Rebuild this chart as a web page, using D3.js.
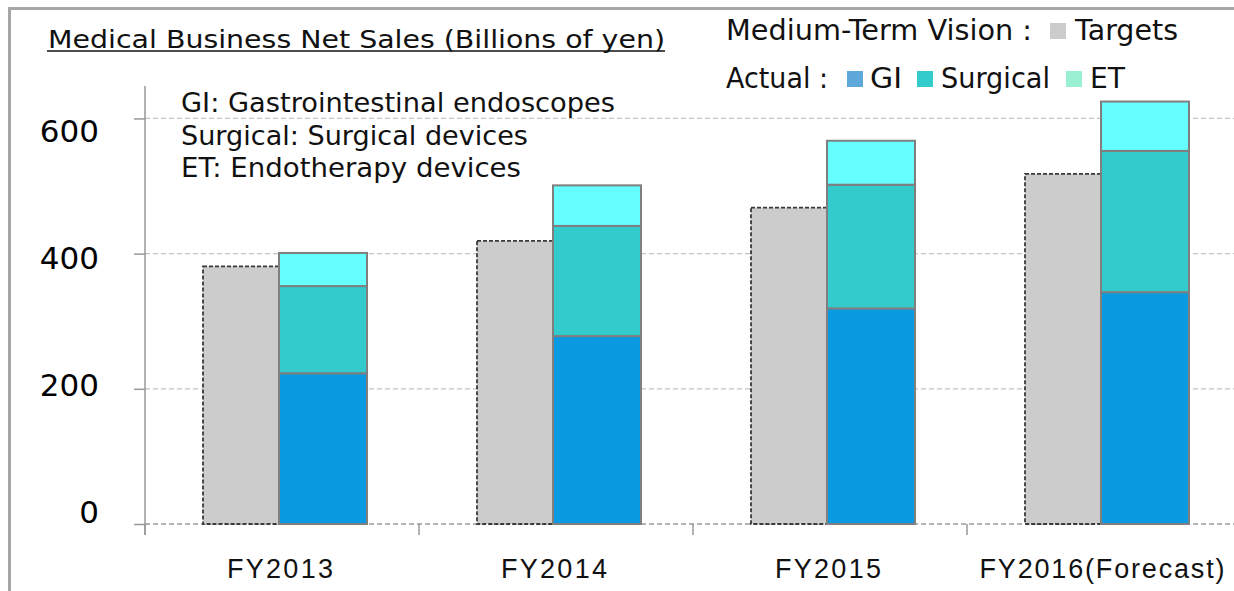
<!DOCTYPE html>
<html>
<head>
<meta charset="utf-8">
<script src="https://cdn.jsdelivr.net/npm/d3@7"></script>
<style>
  body { margin: 0; background: #fff; }
  svg { display: block; font-family: "DejaVu Sans", Verdana, sans-serif; }
</style>
</head>
<body>
<div id="chart"></div>
<script>
// values in billions of yen
const categories = ["FY2013", "FY2014", "FY2015", "FY2016(Forecast)"];
const targets = [381, 419, 468, 518];
const gi = [223, 278, 319, 343];
const surgical = [129, 163, 183, 209];
const et = [49, 60, 65, 73];
const yTicks = [0, 200, 400, 600];
const notes = ["GI: Gastrointestinal endoscopes", "Surgical: Surgical devices", "ET: Endotherapy devices"];

const width = 1234, height = 591;
const plot = {left: 145, right: 1241, top: 86, bottom: 524};

const svg = d3.select("#chart").append("svg")
    .attr("width", width)
    .attr("height", height);

// outer frame (only top and left visible)
svg.append("path")
    .attr("d", "M9.5,591 V8.5 H1234")
    .attr("fill", "none")
    .attr("stroke", "#a6a6a6")
    .attr("stroke-width", 3);

let xScale = d3.scaleBand()
    .domain(categories)
    .range([plot.left, plot.right]);

let yScale = d3.scaleLinear()
    .domain([0, 648])
    .range([plot.bottom, plot.top]);

// tick labels sit a little below their tick in the original
let labelY = d3.scaleLinear().domain([0, 600]).range([523, 142]);

// gridlines
svg.append("g").selectAll("line")
    .data(yTicks)
    .enter().append("line")
    .attr("x1", plot.left)
    .attr("x2", width)
    .attr("y1", d => yScale(d))
    .attr("y2", d => yScale(d))
    .attr("stroke", d => d === 0 ? "#9a9a9a" : "#c4c4c4")
    .attr("stroke-width", 1.3)
    .attr("stroke-dasharray", "5,3");

// y axis
let yAxis = d3.axisLeft(yScale).tickValues(yTicks).tickSize(11).tickFormat("");
let yAxis_g = svg.append("g")
    .attr("class", "y axis")
    .attr("transform", "translate(" + plot.left + ",0)")
    .call(yAxis);
yAxis_g.select(".domain").attr("stroke", "#999").attr("stroke-width", 1.5)
    .attr("d", "M0," + (plot.bottom + 11) + "V" + plot.top);
yAxis_g.selectAll(".tick line").attr("stroke", "#999").attr("stroke-width", 1.5);

svg.append("g").selectAll("text")
    .data(yTicks)
    .enter().append("text")
    .attr("x", 99)
    .attr("y", d => labelY(d))
    .attr("text-anchor", "end")
    .attr("font-size", 31)
    .attr("fill", "#000")
    .text(d => d);

// x axis ticks at category boundaries
let bounds = categories.map(c => xScale(c));
svg.append("g").selectAll("line")
    .data(bounds)
    .enter().append("line")
    .attr("x1", d => d)
    .attr("x2", d => d)
    .attr("y1", plot.bottom)
    .attr("y2", plot.bottom + 11)
    .attr("stroke", "#999")
    .attr("stroke-width", 1.5);

let labelWidths = [106, 106, 106, 245];
svg.append("g").selectAll("text")
    .data(categories)
    .enter().append("text")
    .attr("x", d => xScale(d) + xScale.bandwidth() / 2 - 2)
    .attr("y", 578)
    .attr("text-anchor", "middle")
    .attr("font-family", "'Liberation Sans', Arial, sans-serif")
    .attr("font-size", 27)
    .attr("textLength", (d, i) => labelWidths[i])
    .attr("lengthAdjust", "spacing")
    .attr("fill", "#111")
    .text(d => d);

// target bars (behind)
let barW = 88;
let center = d => xScale(d) + xScale.bandwidth() / 2;

svg.append("g").selectAll("rect")
    .data(categories)
    .enter().append("rect")
    .attr("x", d => center(d) - 79)
    .attr("width", barW)
    .attr("y", (d, i) => yScale(targets[i]))
    .attr("height", (d, i) => yScale(0) - yScale(targets[i]))
    .attr("fill", "#cccccc")
    .attr("stroke", "#3a3a3a")
    .attr("stroke-width", 1.8)
    .attr("stroke-dasharray", "4,2");

// actual stacked bars
let rows = categories.map((c, i) => ({cat: c, gi: gi[i], surgical: surgical[i], et: et[i]}));
let stack = d3.stack().keys(["gi", "surgical", "et"])(rows);
let colors = {gi: "#0a9ae2", surgical: "#33cbcb", et: "#66ffff"};

svg.append("g").selectAll("g")
    .data(stack)
    .enter().append("g")
    .attr("fill", d => colors[d.key])
    .selectAll("rect")
    .data(d => d)
    .enter().append("rect")
    .attr("x", d => center(d.data.cat) - 3)
    .attr("width", barW)
    .attr("y", d => yScale(d[1]))
    .attr("height", d => yScale(d[0]) - yScale(d[1]))
    .attr("stroke", "#7f7f7f")
    .attr("stroke-width", 2);

// title
svg.append("text")
    .attr("x", 48)
    .attr("y", 48)
    .attr("font-size", 25)
    .attr("textLength", 617)
    .attr("lengthAdjust", "spacingAndGlyphs")
    .attr("fill", "#111")
    .text("Medical Business Net Sales (Billions of yen)");
svg.append("line")
    .attr("x1", 47).attr("x2", 665)
    .attr("y1", 51).attr("y2", 51)
    .attr("stroke", "#111").attr("stroke-width", 1.5);

// notes
let noteWidths = [434, 347, 340];
svg.append("g").selectAll("text")
    .data(notes)
    .enter().append("text")
    .attr("x", 181)
    .attr("y", (d, i) => 112 + i * 32.5)
    .attr("font-size", 27)
    .attr("textLength", (d, i) => noteWidths[i])
    .attr("lengthAdjust", "spacingAndGlyphs")
    .attr("fill", "#111")
    .text(d => d);

// legend
let legend = svg.append("g").attr("font-size", 28).attr("fill", "#111");
legend.append("text").attr("x", 726).attr("y", 40)
    .attr("textLength", 306).attr("lengthAdjust", "spacingAndGlyphs")
    .text("Medium-Term Vision :");
legend.append("text").attr("x", 726).attr("y", 88)
    .attr("textLength", 102).attr("lengthAdjust", "spacingAndGlyphs")
    .text("Actual :");

let legendItems = [
  {label: "Targets", color: "#cccccc", x: 1050, y: 23, tx: 1075, w: 103},
  {label: "GI", color: "#5fa8dc", x: 847, y: 71, tx: 870, w: 32},
  {label: "Surgical", color: "#33cccc", x: 917, y: 71, tx: 941, w: 109},
  {label: "ET", color: "#99f0d2", x: 1066, y: 71, tx: 1090, w: 35}
];
legend.selectAll("rect.key")
    .data(legendItems)
    .enter().append("rect")
    .attr("class", "key")
    .attr("x", d => d.x)
    .attr("y", d => d.y)
    .attr("width", 16)
    .attr("height", 16)
    .attr("fill", d => d.color);
legend.selectAll("text.key")
    .data(legendItems)
    .enter().append("text")
    .attr("class", "key")
    .attr("x", d => d.tx)
    .attr("y", d => d.y + 17)
    .attr("textLength", d => d.w)
    .attr("lengthAdjust", "spacingAndGlyphs")
    .text(d => d.label);
</script>
</body>
</html>
